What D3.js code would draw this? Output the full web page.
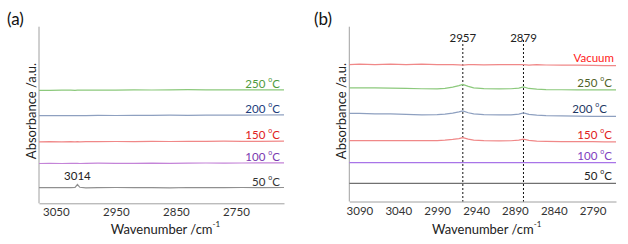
<!DOCTYPE html>
<html>
<head>
<meta charset="utf-8">
<script src="https://cdn.jsdelivr.net/npm/d3@7"></script>
<style>
  body { margin: 0; background: #fff; }
  text { font-family: Lato, "Open Sans", sans-serif; }
</style>
</head>
<body>
<div id="chart"></div>
<script>

/* panel (a) data: wavenumber points and absorbance of each temperature */
var wnA = [3078, 3060, 3040, 3025, 3018, 3014, 3010, 3000, 2980, 2950, 2920, 2890, 2860, 2830, 2800, 2770, 2740, 2710, 2670];
var a50 = [0.157, 0.156, 0.158, 0.157, 0.160, 0.188, 0.160, 0.154, 0.157, 0.158, 0.156, 0.157, 0.155, 0.158, 0.157, 0.156, 0.158, 0.157, 0.158];
var a100 = [0.398, 0.400, 0.398, 0.399, 0.400, 0.399, 0.398, 0.400, 0.401, 0.399, 0.400, 0.402, 0.400, 0.401, 0.403, 0.402, 0.403, 0.404, 0.404];
var a150 = [0.615, 0.616, 0.614, 0.616, 0.615, 0.616, 0.615, 0.617, 0.616, 0.618, 0.617, 0.619, 0.618, 0.620, 0.619, 0.621, 0.620, 0.620, 0.622];
var a200 = [0.876, 0.876, 0.878, 0.877, 0.876, 0.877, 0.878, 0.877, 0.879, 0.878, 0.880, 0.879, 0.881, 0.880, 0.882, 0.881, 0.882, 0.883, 0.884];
var a250 = [1.130, 1.130, 1.132, 1.131, 1.130, 1.131, 1.132, 1.131, 1.133, 1.132, 1.134, 1.133, 1.135, 1.136, 1.135, 1.134, 1.135, 1.134, 1.135];
var ticksA = [3050, 2950, 2850, 2750];

/* panel (b) data */
var wnB = [3103, 3090, 3070, 3050, 3030, 3010, 2990, 2980, 2970, 2962, 2957, 2950, 2943, 2930, 2910, 2895, 2885, 2879, 2872, 2862, 2850, 2830, 2810, 2790, 2775, 2760];
var b50 = [0.183, 0.183, 0.184, 0.183, 0.183, 0.184, 0.183, 0.183, 0.183, 0.183, 0.183, 0.183, 0.184, 0.183, 0.183, 0.183, 0.183, 0.184, 0.183, 0.183, 0.183, 0.184, 0.183, 0.183, 0.183, 0.183];
var b100 = [0.392, 0.392, 0.392, 0.393, 0.392, 0.392, 0.392, 0.392, 0.392, 0.392, 0.393, 0.392, 0.392, 0.392, 0.392, 0.392, 0.392, 0.393, 0.392, 0.392, 0.392, 0.392, 0.392, 0.392, 0.392, 0.392];
var b150 = [0.615, 0.615, 0.615, 0.615, 0.615, 0.615, 0.616, 0.620, 0.627, 0.636, 0.645, 0.630, 0.620, 0.615, 0.613, 0.614, 0.620, 0.630, 0.618, 0.610, 0.607, 0.605, 0.605, 0.604, 0.603, 0.603];
var b200 = [0.890, 0.890, 0.885, 0.885, 0.880, 0.876, 0.877, 0.882, 0.892, 0.905, 0.915, 0.897, 0.885, 0.878, 0.875, 0.876, 0.883, 0.895, 0.880, 0.872, 0.868, 0.865, 0.863, 0.861, 0.860, 0.860];
var b250 = [1.148, 1.148, 1.148, 1.146, 1.143, 1.139, 1.138, 1.143, 1.155, 1.170, 1.183, 1.163, 1.148, 1.140, 1.138, 1.139, 1.146, 1.158, 1.142, 1.135, 1.131, 1.129, 1.128, 1.128, 1.128, 1.128];
var bVac = [1.382, 1.387, 1.382, 1.387, 1.382, 1.387, 1.382, 1.382, 1.382, 1.381, 1.377, 1.382, 1.382, 1.380, 1.382, 1.382, 1.382, 1.382, 1.377, 1.382, 1.379, 1.377, 1.377, 1.375, 1.372, 1.372];
var ticksB = [3090, 3040, 2990, 2940, 2890, 2840, 2790];
var peaksB = [2957, 2879];

var labels = ["Vacuum", "250", "200", "150", "100", "50"];

var svg = d3.select("#chart").append("svg")
    .attr("width", 628)
    .attr("height", 244);

function drawPanel(p) {

    var x = d3.scaleLinear().domain(p.xDomain).range([p.left, p.right]);
    var y = d3.scaleLinear().domain([0, 1.766]).range([p.bottom, p.top]);
    var g = svg.append("g");

    // axes, excel style: no tick marks
    var xAxis = d3.axisBottom(x).tickValues(p.ticks).tickSize(0).tickPadding(5).tickFormat(d3.format("d"));
    g.append("g")
        .attr("transform", "translate(0," + p.bottom + ")")
        .call(xAxis)
        .call(function (s) {
            s.select(".domain").attr("stroke", "#a0a0a0");
            s.selectAll("text").attr("font-size", 11.5).attr("fill", "#333")
                .attr("font-family", "Lato, sans-serif");
        });

    g.append("line")
        .attr("x1", p.left).attr("x2", p.left)
        .attr("y1", p.top).attr("y2", p.bottom)
        .attr("stroke", "#a0a0a0");

    // dashed marker lines (panel b only)
    (p.peaks || []).forEach(function (wn) {
        g.append("line")
            .attr("x1", x(wn)).attr("x2", x(wn))
            .attr("y1", 40).attr("y2", p.bottom)
            .attr("stroke", "#111")
            .attr("stroke-width", 1)
            .attr("stroke-dasharray", "2,2");
        g.append("text")
            .attr("x", x(wn)).attr("y", 37)
            .attr("text-anchor", "middle").attr("dominant-baseline", "central")
            .attr("font-size", 11.5).attr("fill", "#222")
            .text(wn);
    });

    var line = d3.line()
        .x(function (d) { return x(d[0]); })
        .y(function (d) { return y(d[1]); });

    p.series.forEach(function (s) {
        var pts = p.wn.map(function (w, i) { return [w, s.values[i]]; });
        g.append("path")
            .attr("d", line(pts))
            .attr("fill", "none")
            .attr("stroke", s.color)
            .attr("stroke-width", 1.2);

        var t = g.append("text")
            .attr("x", p.right - 4 - (s.dx || 0))
            .attr("y", y(s.values[s.values.length - 1]) - p.labelGap)
            .attr("text-anchor", "end").attr("dominant-baseline", "central")
            .attr("font-size", 11.5).attr("fill", s.textColor);
        if (s.label == "Vacuum") {
            t.text(s.label);
        } else {
            t.append("tspan").text(s.label + " ");
            t.append("tspan").attr("font-size", 7).attr("dy", -4).text("o");
            t.append("tspan").attr("dy", 4).text("C");
        }
    });

    // annotation for the 3014 band (panel a)
    if (p.note) {
        g.append("text")
            .attr("x", x(p.note.wn)).attr("y", y(p.note.value) - 9)
            .attr("text-anchor", "middle").attr("dominant-baseline", "central")
            .attr("font-size", 11.5).attr("fill", "#222")
            .text(p.note.wn);
    }

    // axis titles
    var xt = g.append("text")
        .attr("x", (p.left + p.right) / 2 + 4).attr("y", 229)
        .attr("text-anchor", "middle").attr("dominant-baseline", "central")
        .attr("font-size", 13).attr("fill", "#222");
    xt.append("tspan").text("Wavenumber /cm");
    xt.append("tspan").attr("font-size", 8).attr("dy", -5).text("-1");

    g.append("text")
        .attr("transform", "translate(" + (p.left - 8) + "," + 111 + ") rotate(-90)")
        .attr("text-anchor", "middle").attr("dominant-baseline", "central")
        .attr("font-size", 13).attr("fill", "#222")
        .text("Absorbance /a.u.");

    g.append("text")
        .attr("x", p.tagX).attr("y", 18)
        .attr("dominant-baseline", "central")
        .attr("font-size", 17).attr("fill", "#111")
        .text(p.tag);
}

drawPanel({
    tag: "(a)", tagX: 7,
    left: 39, right: 284, top: 26.7, bottom: 203.3,
    xDomain: [3078, 2670], ticks: ticksA, wn: wnA, labelGap: 7,
    note: {wn: 3014, value: a50[5]},
    series: [
        {label: labels[1], values: a250, color: "#8cc97c", textColor: "#4e9a3c"},
        {label: labels[2], values: a200, color: "#8ea0c0", textColor: "#203c7c"},
        {label: labels[3], values: a150, color: "#f08888", textColor: "#e02020"},
        {label: labels[4], values: a100, color: "#c484d8", textColor: "#7a38b0"},
        {label: labels[5], values: a50, color: "#909090", textColor: "#333"}
    ]
});

drawPanel({
    tag: "(b)", tagX: 314,
    left: 349.3, right: 616, top: 26.7, bottom: 201.5,
    xDomain: [3103, 2760], ticks: ticksB, wn: wnB, labelGap: 8,
    peaks: peaksB,
    series: [
        {label: labels[0], values: bVac, color: "#f08888", textColor: "#ff2020", dx: -2},
        {label: labels[1], values: b250, color: "#8cc97c", textColor: "#4f6228"},
        {label: labels[2], values: b200, color: "#8ea0c0", textColor: "#1f3864", dx: 5},
        {label: labels[3], values: b150, color: "#f08888", textColor: "#e02020"},
        {label: labels[4], values: b100, color: "#a874e8", textColor: "#8040c0"},
        {label: labels[5], values: b50, color: "#707070", textColor: "#222"}
    ]
});

</script>
</body>
</html>
